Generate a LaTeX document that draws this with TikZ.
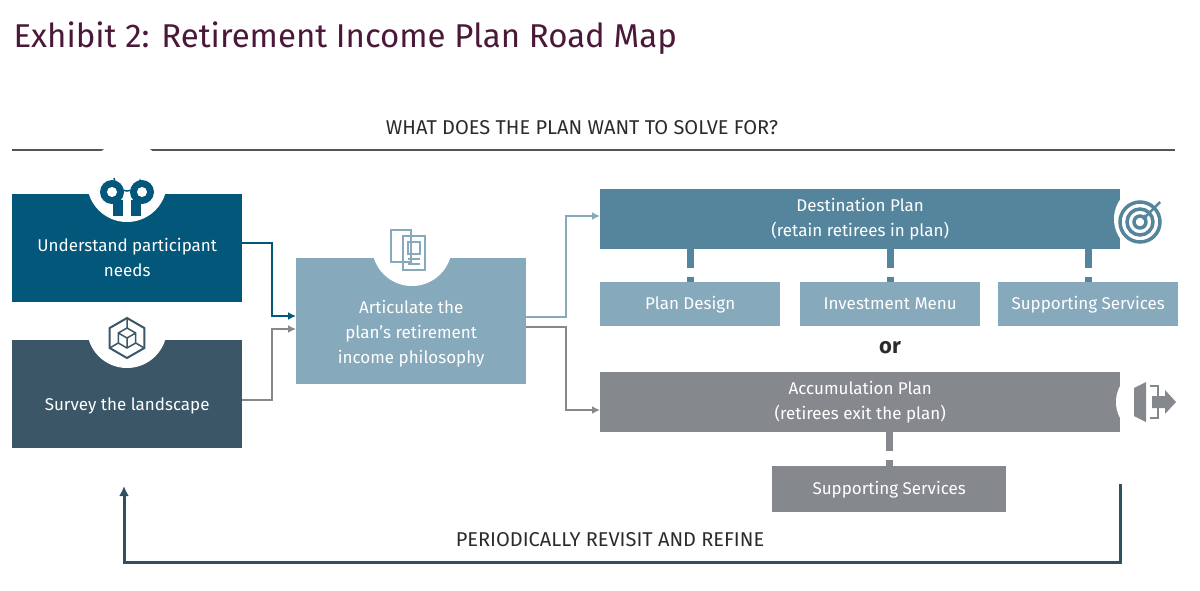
\documentclass[tikz,border=0pt]{standalone}
\usepackage{fontspec}
\setmainfont{Fira Sans}
\usetikzlibrary{arrows.meta, calc, positioning}
\definecolor{navy}{HTML}{02577A}
\definecolor{slate}{HTML}{3A5667}
\definecolor{pale}{HTML}{86A9BC}
\definecolor{steel}{HTML}{55859C}
\definecolor{ash}{HTML}{85888C}
\definecolor{ink}{HTML}{2B2B2B}
\definecolor{plum}{HTML}{4A1838}
\definecolor{ringline}{HTML}{2F5060}
\tikzset{>=Latex,
  box/.style={draw=none, minimum height=#1, inner sep=0pt, text=white, align=center, font=\fontsize{17}{25}\selectfont},
  link/.style={line width=2.5pt, ->, >={Latex[length=8pt,width=8pt]}},
  stub/.style={line width=7pt, dash pattern=on 19pt off 9pt on 9pt},
  notch/.style={fill=white, draw=none}}
\begin{document}
\begin{tikzpicture}[x=1pt,y=-1pt]
    \useasboundingbox (0,0) rectangle (1200,590);
    % headings
    \node[anchor=west, text=plum, font=\fontsize{33}{40}\selectfont] (title) at (10,38) {Exhibit 2: Retirement Income Plan Road Map};
    \node[text=ink, font=\fontsize{20}{24}\selectfont] (ask) at (582,128) {WHAT DOES THE PLAN WANT TO SOLVE FOR?};
    \draw[line width=2pt, ink!80] (12,150) -- (1175,150);
    % left steps
    \node[box=108pt, minimum width=230pt, fill=navy, anchor=north west] (needs) at (12,194) {\\[6pt]Understand participant\\needs};
    \node[box=108pt, minimum width=230pt, fill=slate, anchor=north west] (survey) at (12,340) {\\[12pt]Survey the landscape};
    \node[box=126pt, minimum width=230pt, fill=pale, anchor=north west] (philo) at (296,258) {\\[14pt]Articulate the\\plan's retirement\\income philosophy};
    \fill[notch] (127,182) circle (40);
    \begin{scope}
        \clip (0,310) rectangle (600,590);
        \fill[notch] (127,328) circle (40);
    \end{scope}
    \fill[notch] (412,246) circle (40);
    % icons
    \foreach \s in {-1,1}{
        \fill[navy] ($(127,192)+(\s*15,0)$) circle (12);
        \fill[navy] ($(127,200)+(\s*14,0)$) rectangle ($(127,216)+(\s*4,0)$);
        \fill[white] ($(127,192)+(\s*15,0)$) circle (5);
      }
    \draw[navy, line width=1.5pt, ->, >={Latex[length=4pt]}] (114,178) arc[start angle=180, end angle=0, radius=13];
    \draw[slate, line width=2pt] (127,318) -- (144.3,328) -- (144.3,348) -- (127,358) -- (109.7,348) -- (109.7,328) -- cycle;
    \draw[slate, line width=1.5pt] (127,328) -- (135.7,333) -- (135.7,343) -- (127,348) -- (118.3,343) -- (118.3,333) -- cycle
        (127,328) -- (127,318) (135.7,343) -- (144.3,348) (118.3,343) -- (109.7,348)
        (127,338) -- (127,348) (127,338) -- (135.7,333) (127,338) -- (118.3,333);
    \draw[pale, line width=1.5pt] (391,230) rectangle (411,262) (403,236) rectangle (425,270) (408,242) rectangle (420,254)
        (408,259) -- (420,259) (408,264) -- (420,264);
    % plans
    \node[box=60pt, minimum width=520pt, fill=steel, anchor=north west] (dest) at (600,189) {Destination Plan\\(retain retirees in plan)};
    \node[box=60pt, minimum width=520pt, fill=ash, anchor=north west] (accum) at (600,372) {Accumulation Plan\\(retirees exit the plan)};
    \fill[notch] (1148,219) circle (34);
    \fill[notch] (1150,402) circle (34);
    \foreach \r in {20,13,6}{
        \draw[steel, line width=3.5pt] (1140,222) circle (\r);
      }
    \draw[steel, line width=2.5pt, -{Latex[length=6pt]}] (1160,202) -- (1142,220);
    \fill[ash] (1134,388) -- (1146,382) -- (1146,422) -- (1134,416) -- cycle;
    \draw[ash, line width=2.5pt] (1150,386) -- (1158,386) -- (1158,396) (1150,418) -- (1158,418) -- (1158,408);
    \fill[ash] (1152,396) -- (1165,396) -- (1165,390) -- (1176,402) -- (1165,414) -- (1165,408) -- (1152,408) -- cycle;
    % parts
    \foreach \n/\x/\t in {design/600/Plan Design, menu/800/Investment Menu, serv/998/Supporting Services}{
        \node[box=44pt, minimum width=180pt, fill=pale, anchor=north west] (\n) at (\x,282) {\t};
        \draw[stub, steel] (\n.north |- dest.south) -- (\n.north);
      }
    \node[text=ink, font=\bfseries\fontsize{22}{24}\selectfont] (or) at (890,348) {or};
    \node[box=46pt, minimum width=234pt, fill=ash, anchor=north west] (aserv) at (772,466) {Supporting Services};
    \draw[stub, ash] (aserv.north |- accum.south) -- (aserv.north);
    % arrows
    \draw[link, navy] (needs.east |- 0,243) -| (272,316) -- (philo.west |- 0,316);
    \draw[link, ash] (survey.east |- 0,400) -| (272,329) -- (philo.west |- 0,329);
    \draw[link, pale] (philo.east |- 0,317) -| (566,216) -- (dest.west |- 0,216);
    \draw[link, ash] (philo.east |- 0,327) -| (566,410) -- (accum.west |- 0,410);
    % feedback
    \coordinate (back) at (1120,484);
    \draw[line width=3pt, ringline, ->, >={Latex[length=10pt,width=10pt]}] (back) -- (1120,562) -| (124,486);
    \node[text=ink, font=\fontsize{20}{24}\selectfont] (again) at (610,540) {PERIODICALLY REVISIT AND REFINE};
\end{tikzpicture}
\end{document}
